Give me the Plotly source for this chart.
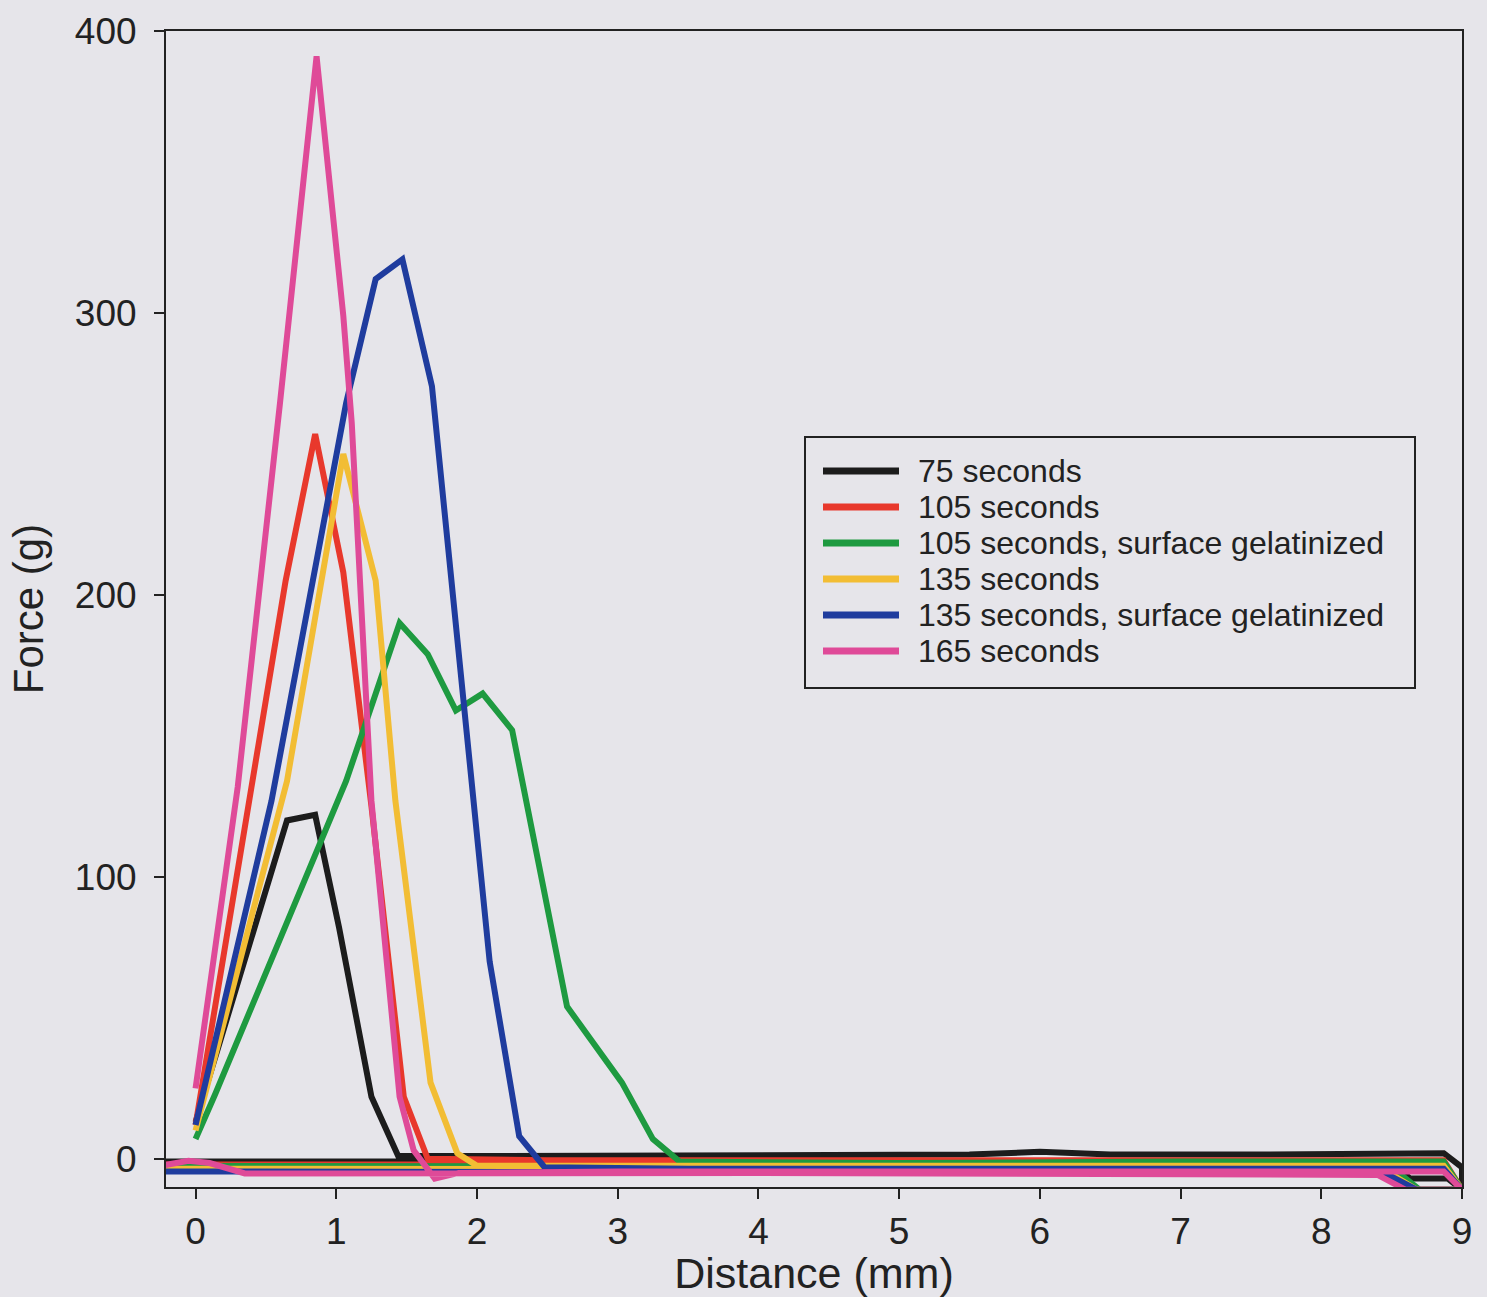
import plotly.graph_objects as go

# ---------------- data ----------------
names = ["75 seconds", "105 seconds", "105 seconds, surface gelatinized",
         "135 seconds", "135 seconds, surface gelatinized", "165 seconds"]
colors = ["#1c1c1c", "#e8382c", "#1e9a40", "#f2bd34", "#1f3c9e", "#df4a98"]

# distance (mm) - forward stroke then return stroke
x_75 = [0, 0.65, 0.85, 1.02, 1.25, 1.44, 2.0, 3.0, 3.5, 4.5, 5.5, 6.0, 6.5, 7.5, 8.5, 8.87, 9.0,
        9.0, 8.9, 8.63, 8.5, 4.0, -0.25]
f_75 = [13, 120, 122, 82, 22, 1, 1, 1, 1.5, 1.5, 1.5, 2.5, 1.5, 1.5, 2, 2, -3,
        -11, -7, -7, -1, -1, -1]

x_105 = [0, 0.64, 0.85, 1.05, 1.25, 1.48, 1.65, 2.5, 4.0, 5.5, 7.0, 8.5, 8.87, 9.0,
         8.68, 8.45, 4.0, -0.25]
f_105 = [12, 205, 257, 208, 125, 22, 0, -0.5, -0.5, -0.5, -0.5, -0.5, -0.5, -11,
         -11, -2, -2, -2]

x_105g = [0, 0.14, 0.45, 0.88, 1.07, 1.45, 1.65, 1.85, 2.04, 2.25, 2.35, 2.64, 3.03, 3.25, 3.44,
          5.0, 7.0, 8.87, 9.0, 8.7, 8.5, 4.0, 0.3, -0.25]
f_105g = [7, 23, 60, 112, 134, 190, 179, 159, 165, 152, 127, 54, 27, 7, -1,
          -1.5, -1, -1, -11, -11, -3, -3, -2.5, -2.5]

x_135 = [0, 0.45, 0.65, 0.85, 1.05, 1.28, 1.42, 1.67, 1.86, 2.0, 3.0, 5.0, 7.0, 8.87, 9.0,
         8.68, 8.45, 4.0, -0.25]
f_135 = [10, 95, 134, 192, 250, 205, 127, 27, 2, -2.5, -2.5, -2.5, -2.5, -2.5, -11,
         -11, -4, -4, -3.5]

x_135g = [0, 0.54, 1.07, 1.28, 1.47, 1.68, 2.09, 2.3, 2.48, 3.5, 5.0, 7.0, 8.87, 9.0,
          8.68, 8.45, 4.0, 0.3, -0.25]
f_135g = [12, 127, 268, 312, 319, 274, 70, 8, -3, -3.5, -3.5, -3.5, -3.5, -11,
          -11, -5, -4.5, -4.5, -4.5]

x_165 = [0, 0.3, 0.6, 0.86, 1.05, 1.11, 1.25, 1.45, 1.55, 1.7, 1.87, 3.0, 5.0, 7.0, 8.87, 9.0,
         8.6, 8.4, 4.0, 0.35, 0.1, -0.05, -0.25]
f_165 = [25, 132, 268, 391, 299, 261, 127, 22, 3, -7, -5, -4.5, -4.5, -4.5, -4.5, -11,
         -11, -5.7, -5, -5.2, -1.5, -0.7, -2.5]

series_x = [x_75, x_105, x_105g, x_135, x_135g, x_165]
series_f = [f_75, f_105, f_105g, f_135, f_135g, f_165]

x_ticks = [0, 1, 2, 3, 4, 5, 6, 7, 8, 9]
y_ticks = [0, 100, 200, 300, 400]

# ---------------- figure ----------------
FONT = "Liberation Sans, Arial, Helvetica, sans-serif"
INK = "#222222"
BG = "#e6e5ea"
W, H = 1487, 1297
ML, MR, MT, MB = 166, 25, 31, 110
PW, PH = W - ML - MR, H - MT - MB


def px_x(p):  # pixel -> paper fraction (layout only)
    return (p - ML) / PW


def px_y(p):
    return (H - MB - p) / PH


fig = go.Figure()
for nm, col, xs, fs in zip(names, colors, series_x, series_f):
    fig.add_trace(go.Scatter(x=xs, y=fs, mode="lines", name=nm,
                             line=dict(color=col, width=6), showlegend=False))

# legend box drawn as shapes + text annotations
shapes = [dict(type="rect", xref="paper", yref="paper",
               x0=px_x(805), x1=px_x(1415), y0=px_y(688), y1=px_y(437),
               line=dict(color=INK, width=2), fillcolor="rgba(0,0,0,0)")]
annotations = []
row0, rowgap = 471, 36
for i, (nm, col) in enumerate(zip(names, colors)):
    yy = px_y(row0 + i * rowgap)
    shapes.append(dict(type="line", xref="paper", yref="paper",
                       x0=px_x(823), x1=px_x(899), y0=yy, y1=yy,
                       line=dict(color=col, width=7)))
    annotations.append(dict(xref="paper", yref="paper", x=px_x(916), y=yy,
                            xanchor="left", yanchor="middle", showarrow=False,
                            text=nm, font=dict(family=FONT, size=32, color=INK)))

fig.update_layout(
    width=W, height=H,
    margin=dict(l=ML, r=MR, t=MT, b=MB),
    paper_bgcolor=BG, plot_bgcolor=BG,
    font=dict(family=FONT, color=INK, size=36),
    showlegend=False,
    shapes=shapes, annotations=annotations,
)
fig.update_xaxes(range=[-0.21, 9.0], tickvals=x_ticks, ticks="outside", ticklen=10,
                 tickwidth=2, tickcolor=INK, showline=True, linecolor=INK, linewidth=2,
                 mirror=True, showgrid=False, zeroline=False,
                 tickfont=dict(size=37), ticklabelstandoff=1,
                 title=dict(text="Distance (mm)", font=dict(size=43), standoff=2))
fig.update_yaxes(range=[-10, 400], tickvals=y_ticks, ticks="outside", ticklen=10,
                 tickwidth=2, tickcolor=INK, showline=True, linecolor=INK, linewidth=2,
                 mirror=True, showgrid=False, zeroline=False,
                 tickfont=dict(size=37), ticklabelstandoff=10,
                 title=dict(text="Force (g)", font=dict(size=42), standoff=18))

fig.write_html("out.html")
